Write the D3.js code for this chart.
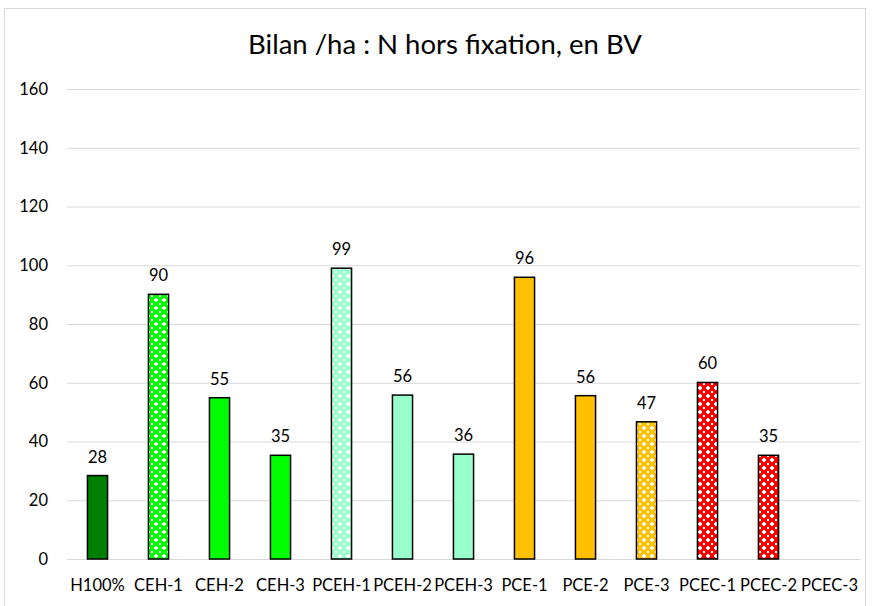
<!DOCTYPE html>
<html><head><meta charset="utf-8">
<script src="https://cdn.jsdelivr.net/npm/d3@7"></script>
<style>body{margin:0;background:#fff}svg{display:block}text{font-family:Lato,"Liberation Sans",sans-serif}</style>
</head><body><svg id="c" width="873" height="606"></svg>
<script>
const title = "Bilan /ha : N hors fixation, en BV";
const categories = ["H100%","CEH-1","CEH-2","CEH-3","PCEH-1","PCEH-2","PCEH-3","PCE-1","PCE-2","PCE-3","PCEC-1","PCEC-2","PCEC-3"];
const values = [28.4, 90.1, 54.9, 35.3, 99.0, 55.8, 35.7, 95.9, 55.6, 46.7, 60.1, 35.3, null];
const colors = ["#008000","#00ff00","#00ff00","#00ff00","#99ffcc","#99ffcc","#99ffcc","#ffc000","#ffc000","#ffc000","#ff0000","#ff0000","#ff0000"];
const patterned = [false,true,false,false,true,false,false,false,false,true,true,true,true];
const yTicks = [0,20,40,60,80,100,120,140,160];

const svg = d3.select("#c");
const W = 873, H = 606;
const m = {left:67, right:13, top:89, bottom:47};

svg.append("rect").attr("x",4.5).attr("y",8.5).attr("width",861).attr("height",610)
  .attr("fill","#fff").attr("stroke","#d9d9d9").attr("stroke-width",1);

const x = d3.scaleBand().domain(categories).range([m.left, W-m.right]).paddingInner(0.67).paddingOuter(0.335);
const y = d3.scaleLinear().domain([0,160]).range([H-m.bottom, m.top]);

// patterns
const defs = svg.append("defs");
colors.forEach((c,i)=>{
  if(!patterned[i]) return;
  const p = defs.append("pattern").attr("id","pat"+i).attr("patternUnits","userSpaceOnUse")
    .attr("width",8).attr("height",8);
  p.append("rect").attr("width",8).attr("height",8).attr("fill",c);
  p.append("rect").attr("x",3).attr("y",2).attr("width",2).attr("height",4).attr("fill","#fff");
  p.append("rect").attr("x",2).attr("y",3).attr("width",4).attr("height",2).attr("fill","#fff");
  p.append("rect").attr("x",7).attr("y",7).attr("width",2).attr("height",2).attr("fill","#fff");
  p.append("rect").attr("x",-1).attr("y",-1).attr("width",2).attr("height",2).attr("fill","#fff");
  p.append("rect").attr("x",7).attr("y",-1).attr("width",2).attr("height",2).attr("fill","#fff");
  p.append("rect").attr("x",-1).attr("y",7).attr("width",2).attr("height",2).attr("fill","#fff");
});

// grid
const yAxis = d3.axisLeft(y).tickValues(yTicks).tickSize(-(W-m.left-m.right)).tickPadding(19);
const gy = svg.append("g").attr("transform",`translate(${m.left},0)`).call(yAxis);
gy.select(".domain").remove();
gy.selectAll(".tick line").attr("stroke","#d9d9d9").attr("stroke-width",1);
gy.selectAll(".tick text").attr("fill","#000").style("font-size","16.5px");

// x axis
const xAxis = d3.axisBottom(x).tickSize(0).tickPadding(20);
const gx = svg.append("g").attr("transform",`translate(0,${y(0)})`).call(xAxis);
gx.select(".domain").attr("stroke","#d9d9d9");
gx.selectAll(".tick text").attr("fill","#000").style("font-size","16.5px");

// bars
const data = categories.map((c,i)=>({c, v:values[i], i}));
svg.append("g").selectAll("rect").data(data.filter(d=>d.v!=null)).join("rect")
  .attr("x",d=>x(d.c)).attr("width",x.bandwidth())
  .attr("y",d=>y(d.v)).attr("height",d=>y(0)-y(d.v))
  .attr("fill",d=>patterned[d.i]?`url(#pat${d.i})`:colors[d.i])
  .attr("stroke","#000").attr("stroke-width",1.5);

svg.append("g").selectAll("text").data(data.filter(d=>d.v!=null)).join("text")
  .attr("x",d=>x(d.c)+x.bandwidth()/2).attr("y",d=>y(d.v)-13)
  .attr("text-anchor","middle").style("font-size","16.5px").attr("fill","#000")
  .text(d=>d3.format(".0f")(d.v));

svg.append("text").attr("x",445).attr("y",54).attr("text-anchor","middle")
  .style("font-size","27.5px").attr("fill","#000").text(title);
</script></body></html>
